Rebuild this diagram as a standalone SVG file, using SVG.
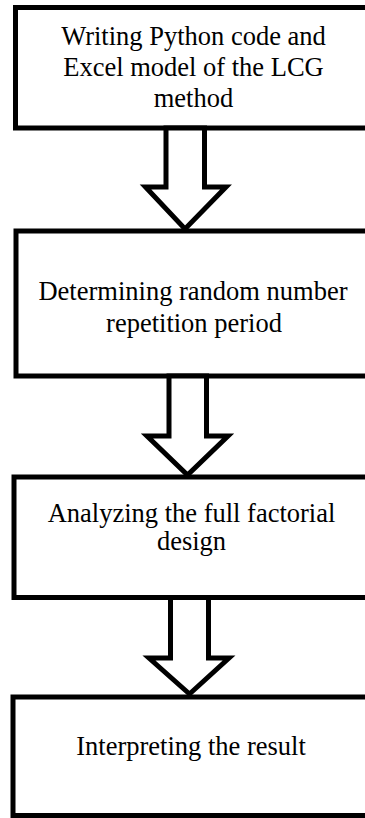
<svg xmlns="http://www.w3.org/2000/svg" width="365" height="818" viewBox="0 0 365 818">
<style>
.box{fill:#fff;stroke:#000;stroke-width:5}
.arr{fill:#fff;stroke:#000;stroke-width:5;stroke-linejoin:miter}
.t{font-family:"Liberation Serif","Times New Roman",serif;font-size:26.5px;fill:#000;text-anchor:middle}
</style>
<rect width="365" height="818" fill="#fff"/>
<g id="node1">
<rect class="box" x="15.5" y="7.5" width="380" height="120.5"/>
<text class="t" x="193.5" y="44.5">Writing Python code and</text>
<text class="t" x="193.5" y="75.5">Excel model of the LCG</text>
<text class="t" x="193.5" y="106.5">method</text>
</g>
<g id="node2">
<rect class="box" x="16" y="231" width="380" height="145"/>
<text class="t" x="193" y="300">Determining random number</text>
<text class="t" x="194" y="332">repetition period</text>
</g>
<g id="node3">
<rect class="box" x="14" y="477" width="380" height="120.5"/>
<text class="t" x="191.5" y="522">Analyzing the full factorial</text>
<text class="t" x="191.5" y="550">design</text>
</g>
<g id="node4">
<rect class="box" x="13" y="697" width="380" height="118.5"/>
<text class="t" x="191" y="755">Interpreting the result</text>
</g>
<g id="connectors">
<polygon class="arr" points="166,128 204.5,128 204.5,187 226,187 185,229 145.5,187 166,187"/>
<polygon class="arr" points="169,376 206.5,376 206.5,436 228,436 187.5,475 147,436 169,436"/>
<polygon class="arr" points="170.5,597.5 208.5,597.5 208.5,658 229,658 189.5,694 149,658 170.5,658"/>
</g>
</svg>
